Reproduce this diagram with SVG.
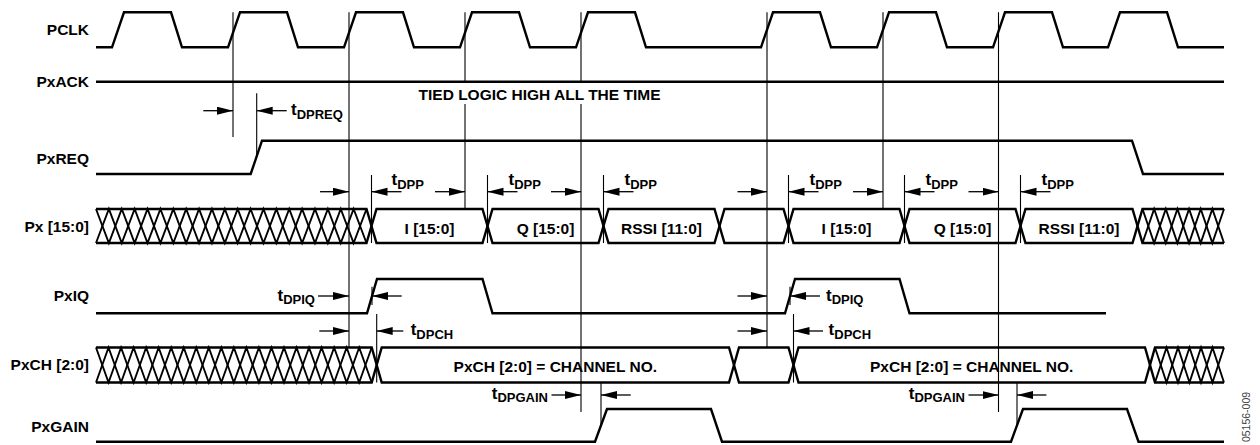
<svg xmlns="http://www.w3.org/2000/svg" width="1260" height="445" viewBox="0 0 1260 445">
<defs>
<marker id="ah" markerUnits="userSpaceOnUse" markerWidth="17" markerHeight="9" refX="16" refY="4" orient="auto">
<path d="M0,0 L16,4 L0,8 Z" fill="#000"/>
</marker>
<style>
.sig{fill:none;stroke:#000;stroke-width:2.4;stroke-linejoin:miter}
.hx{fill:none;stroke:#000;stroke-width:1.9}
.thin{fill:none;stroke:#000;stroke-width:1.1}
.arr{fill:none;stroke:#000;stroke-width:1.3;marker-end:url(#ah)}
text{font-family:"Liberation Sans",Arial,Helvetica,sans-serif;font-weight:bold;fill:#000}
.lbl{font-size:15.5px;text-anchor:end}
.bl{font-size:15.5px;text-anchor:middle}
.t{font-size:17px}
.sub{font-size:13px}
.wm{font-size:10.5px;font-weight:normal;fill:#444;text-anchor:middle}
</style>
</defs>
<rect width="1260" height="445" fill="#fff"/>

<g id="PCLK">
<text class="lbl" x="89" y="35">PCLK</text>
<path class="sig" d="M96,47.3 L112,47.3 L124,12.3 L171,12.3 L182,47.3 L228,47.3 L240,12.3 L287,12.3 L298,47.3 L344,47.3 L356,12.3 L403,12.3 L414,47.3 L460,47.3 L472,12.3 L519,12.3 L530,47.3 L576,47.3 L588,12.3 L635,12.3 L646,47.3 L761,47.3 L773,12.3 L820,12.3 L831,47.3 L877,47.3 L889,12.3 L936,12.3 L947,47.3 L993,47.3 L1005,12.3 L1052,12.3 L1063,47.3 L1108,47.3 L1120,12.3 L1167,12.3 L1178,47.3 L1224,47.3"/>
</g>

<g id="PxACK">
<text class="lbl" x="89" y="87.3">PxACK</text>
<path class="sig" d="M96,81.7 L1224,81.7"/>
<text class="bl" x="539.5" y="99.5">TIED LOGIC HIGH ALL THE TIME</text>
</g>

<g id="PxREQ">
<text class="lbl" x="89" y="163.5">PxREQ</text>
<path class="sig" d="M96,174 L250.7,174 L262,140.7 L1132,140.7 L1143,174 L1224,174"/>
</g>

<g id="Px">
<text class="lbl" x="89" y="232">Px [15:0]</text>
<path class="sig" d="M96,209 L366.5,209 L371.5,226 L366.5,243 L96,243"/>
<path class="hx" d="M96,209 L108.88,243 L121.76,209 L134.64,243 L147.52,209 L160.4,243 L173.29,209 L186.17,243 L199.05,209 L211.93,243 L224.81,209 L237.69,243 L250.57,209 L263.45,243 L276.33,209 L289.21,243 L302.1,209 L314.98,243 L327.86,209 L340.74,243 L353.62,209 L366.5,243"/>
<path class="hx" d="M96,243 L108.88,209 L121.76,243 L134.64,209 L147.52,243 L160.4,209 L173.29,243 L186.17,209 L199.05,243 L211.93,209 L224.81,243 L237.69,209 L250.57,243 L263.45,209 L276.33,243 L289.21,209 L302.1,243 L314.98,209 L327.86,243 L340.74,209 L353.62,243 L366.5,209"/>
<path class="sig" d="M371.5,226 L376.5,209 L482.5,209 L487.5,226 L482.5,243 L376.5,243 Z"/>
<path class="sig" d="M487.5,226 L492.5,209 L598.5,209 L603.5,226 L598.5,243 L492.5,243 Z"/>
<path class="sig" d="M603.5,226 L608.5,209 L714.5,209 L719.5,226 L714.5,243 L608.5,243 Z"/>
<path class="sig" d="M719.5,226 L724.5,209 L783.5,209 L788.5,226 L783.5,243 L724.5,243 Z"/>
<path class="sig" d="M788.5,226 L793.5,209 L899.5,209 L904.5,226 L899.5,243 L793.5,243 Z"/>
<path class="sig" d="M904.5,226 L909.5,209 L1015.5,209 L1020.5,226 L1015.5,243 L909.5,243 Z"/>
<path class="sig" d="M1020.5,226 L1025.5,209 L1132.5,209 L1137.5,226 L1132.5,243 L1025.5,243 Z"/>
<path class="sig" d="M1224,209 L1142.5,209 L1137.5,226 L1142.5,243 L1224,243"/>
<path class="hx" d="M1142.5,209 L1154.14,243 L1165.79,209 L1177.43,243 L1189.07,209 L1200.71,243 L1212.36,209 L1224,243"/>
<path class="hx" d="M1142.5,243 L1154.14,209 L1165.79,243 L1177.43,209 L1189.07,243 L1200.71,209 L1212.36,243 L1224,209"/>
<text class="bl" x="429.5" y="233.5">I [15:0]</text>
<text class="bl" x="545.5" y="233.5">Q [15:0]</text>
<text class="bl" x="661.5" y="233.5">RSSI [11:0]</text>
<text class="bl" x="846.5" y="233.5">I [15:0]</text>
<text class="bl" x="962.5" y="233.5">Q [15:0]</text>
<text class="bl" x="1079" y="233.5">RSSI [11:0]</text>
</g>

<g id="PxIQ">
<text class="lbl" x="89" y="301">PxIQ</text>
<path class="sig" d="M96,313.3 L367,313.3 L377,279 L482.5,279 L492.5,313.3 L785,313.3 L795,279 L899.5,279 L909.5,313.3 L1106,313.3"/>
</g>

<g id="PxCH">
<text class="lbl" x="89" y="370">PxCH [2:0]</text>
<path class="sig" d="M96,347.5 L371.7,347.5 L376.7,365 L371.7,382.5 L96,382.5"/>
<path class="hx" d="M96,347.5 L108.53,382.5 L121.06,347.5 L133.6,382.5 L146.13,347.5 L158.66,382.5 L171.19,347.5 L183.72,382.5 L196.26,347.5 L208.79,382.5 L221.32,347.5 L233.85,382.5 L246.38,347.5 L258.92,382.5 L271.45,347.5 L283.98,382.5 L296.51,347.5 L309.04,382.5 L321.58,347.5 L334.11,382.5 L346.64,347.5 L359.17,382.5 L371.7,347.5"/>
<path class="hx" d="M96,382.5 L108.53,347.5 L121.06,382.5 L133.6,347.5 L146.13,382.5 L158.66,347.5 L171.19,382.5 L183.72,347.5 L196.26,382.5 L208.79,347.5 L221.32,382.5 L233.85,347.5 L246.38,382.5 L258.92,347.5 L271.45,382.5 L283.98,347.5 L296.51,382.5 L309.04,347.5 L321.58,382.5 L334.11,347.5 L346.64,382.5 L359.17,347.5 L371.7,382.5"/>
<path class="sig" d="M376.7,365 L381.7,347.5 L729,347.5 L734,365 L729,382.5 L381.7,382.5 Z"/>
<path class="sig" d="M734,365 L739,347.5 L788.5,347.5 L793.5,365 L788.5,382.5 L739,382.5 Z"/>
<path class="sig" d="M793.5,365 L798.5,347.5 L1145,347.5 L1150,365 L1145,382.5 L798.5,382.5 Z"/>
<path class="sig" d="M1224,347.5 L1155,347.5 L1150,365 L1155,382.5 L1224,382.5"/>
<path class="hx" d="M1155,347.5 L1166.5,382.5 L1178,347.5 L1189.5,382.5 L1201,347.5 L1212.5,382.5 L1224,347.5"/>
<path class="hx" d="M1155,382.5 L1166.5,347.5 L1178,382.5 L1189.5,347.5 L1201,382.5 L1212.5,347.5 L1224,382.5"/>
<text class="bl" x="555.3" y="372">PxCH [2:0] = CHANNEL NO.</text>
<text class="bl" x="971.7" y="372">PxCH [2:0] = CHANNEL NO.</text>
</g>

<g id="PxGAIN">
<text class="lbl" x="89" y="431.5">PxGAIN</text>
<path class="sig" d="M96,441.7 L595,441.7 L607,409 L711,409 L722,441.7 L1011,441.7 L1023,409 L1127,409 L1138.5,441.7 L1224,441.7"/>
</g>

<g id="connectors">
<path class="thin" d="M233,12.3 V137 M349,12.3 V347.5 M465,12.3 V81.7 M465,104 V209 M581,12.3 V81.7 M581,104 V412 M767,12.3 V347.5 M883,12.3 V209 M998.5,12.3 V412"/>
<path class="thin" d="M256.7,93.3 V157"/>
<path class="thin" d="M371.5,175 V243 M487.5,175 V243 M603.5,175 V243 M788.5,175 V243 M904.5,175 V243 M1020.5,175 V243"/>
<path class="thin" d="M372,286.7 V305 M790,286.7 V305"/>
<path class="thin" d="M376.7,314 V382.5 M793.5,314 V382.5"/>
<path class="thin" d="M601,383 V425 M1017,383 V425"/>

<path class="arr" d="M203.3,110.7 H233"/>
<path class="arr" d="M286.7,110.7 H256.7"/>

<path class="arr" d="M320,191.7 H349"/>
<path class="arr" d="M401.5,191.7 H371.5"/>
<path class="arr" d="M435,191.7 H465"/>
<path class="arr" d="M517.5,191.7 H487.5"/>
<path class="arr" d="M551,191.7 H581"/>
<path class="arr" d="M633.5,191.7 H603.5"/>
<path class="arr" d="M737.5,191.7 H767"/>
<path class="arr" d="M818.5,191.7 H788.5"/>
<path class="arr" d="M853,191.7 H883"/>
<path class="arr" d="M934.5,191.7 H904.5"/>
<path class="arr" d="M968.5,191.7 H998.5"/>
<path class="arr" d="M1050.5,191.7 H1020.5"/>

<path class="arr" d="M318,296 H349"/>
<path class="arr" d="M401.7,296 H372"/>
<path class="arr" d="M737.5,296 H767"/>
<path class="arr" d="M820,296 H790"/>

<path class="arr" d="M319.3,331 H349"/>
<path class="arr" d="M403.3,331 H376.7"/>
<path class="arr" d="M737.5,331 H767"/>
<path class="arr" d="M823,331 H793.5"/>

<path class="arr" d="M551.5,395 H581"/>
<path class="arr" d="M630.7,395 H601"/>
<path class="arr" d="M968.5,395 H998.5"/>
<path class="arr" d="M1046.4,395 H1017"/>

<text class="t" x="291" y="115">t<tspan class="sub" dy="3.5">DPREQ</tspan></text>
<text class="t" x="391.5" y="185">t<tspan class="sub" dy="3.5">DPP</tspan></text>
<text class="t" x="508.5" y="185">t<tspan class="sub" dy="3.5">DPP</tspan></text>
<text class="t" x="624.5" y="185">t<tspan class="sub" dy="3.5">DPP</tspan></text>
<text class="t" x="809.5" y="185">t<tspan class="sub" dy="3.5">DPP</tspan></text>
<text class="t" x="925.5" y="185">t<tspan class="sub" dy="3.5">DPP</tspan></text>
<text class="t" x="1041.5" y="185">t<tspan class="sub" dy="3.5">DPP</tspan></text>
<text class="t" x="315" y="300.5" text-anchor="end">t<tspan class="sub" dy="3.5">DPIQ</tspan></text>
<text class="t" x="826" y="300.5">t<tspan class="sub" dy="3.5">DPIQ</tspan></text>
<text class="t" x="410.7" y="335">t<tspan class="sub" dy="3.5">DPCH</tspan></text>
<text class="t" x="828.6" y="335">t<tspan class="sub" dy="3.5">DPCH</tspan></text>
<text class="t" x="548" y="398.5" text-anchor="end">t<tspan class="sub" dy="3.5">DPGAIN</tspan></text>
<text class="t" x="965" y="398.5" text-anchor="end">t<tspan class="sub" dy="3.5">DPGAIN</tspan></text>
</g>

<text class="wm" transform="translate(1250,417) rotate(-90)">05156-009</text>
</svg>
